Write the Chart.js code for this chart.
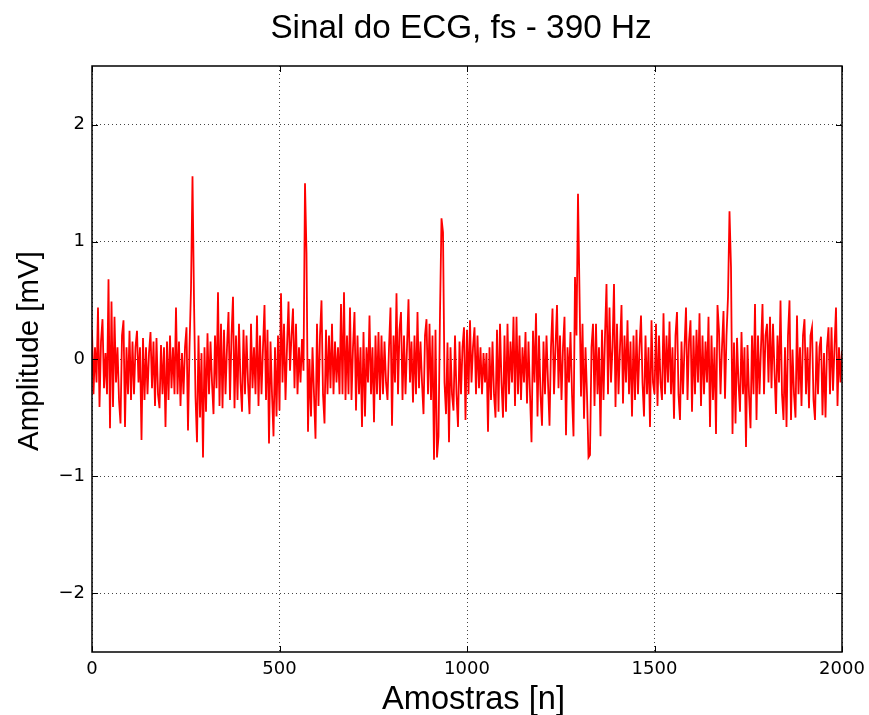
<!DOCTYPE html>
<html>
<head>
<meta charset="utf-8">
<script src="https://cdn.jsdelivr.net/npm/chart.js@4"></script>
<style>
  html, body { margin: 0; padding: 0; background: #fff; }
  canvas { display: block; }
</style>
</head>
<body>
<canvas id="ecg" width="869" height="715"></canvas>
<script>
// uma leitura a cada 4 amostras (0, 4, 8, ... 2000)
const passo = 4;
const amplitude = [
  // 0 - 96
  0.25, -0.3, 0.1, -0.2, 0.44, -0.41, 0.15, 0.34, -0.25, 0.05, -0.3, 0.68, -0.59, 0.49, -0.41, 0.36, -0.2, 0.1, -0.35, -0.55, 0.2, 0.33, -0.58, 0.1, -0.3,
  // 100 - 196
  0.24, -0.35, 0.15, -0.3, 0.1, 0.24, -0.2, 0.1, -0.69, 0.18, -0.35, 0.1, -0.3, 0.05, 0.23, -0.25, 0.15, -0.4, 0.18, -0.3, -0.42, 0.12, -0.3, 0.1, -0.58,
  // 200 - 296
  0.15, -0.35, 0.2, -0.25, 0.1, -0.3, 0.44, -0.3, 0.15, -0.4, 0.05, -0.3, 0.1, 0.27, -0.61, 0.1, 0.6, 1.56, 0.5, -0.32, -0.71, 0.2, -0.5, 0.05, -0.84,
  // 300 - 396
  0.1, -0.45, 0.22, -0.3, 0.15, -0.2, -0.47, 0.2, -0.25, 0.57, -0.4, 0.3, -0.42, 0.25, -0.3, 0.1, 0.4, -0.35, 0.2, 0.53, -0.42, 0.2, -0.35, 0.3, -0.2,
  // 400 - 496
  -0.45, 0.25, -0.3, 0.2, -0.2, -0.47, 0.3, -0.25, 0.1, -0.3, 0.37, -0.4, 0.2, -0.3, 0.1, 0.46, -0.35, 0.25, -0.72, 0.15, -0.3, -0.66, 0.1, -0.49, 0.2,
  // 500 - 596
  -0.44, 0.56, -0.2, 0.3, -0.35, 0.1, 0.49, -0.1, 0.2, 0.43, -0.25, 0.3, -0.3, 0.1, -0.2, 0.17, -0.1, 1.5, 0.9, -0.62, 0.0, -0.49, 0.1, -0.3, -0.68,
  // 600 - 696
  0.3, -0.4, 0.2, 0.5, -0.3, -0.55, 0.25, -0.3, 0.2, -0.25, 0.3, -0.3, 0.15, -0.2, 0.1, -0.3, 0.47, -0.3, 0.57, -0.35, 0.2, -0.3, 0.44, -0.35, 0.1,
  // 700 - 796
  0.4, -0.44, 0.2, -0.3, 0.1, -0.58, 0.23, -0.49, 0.1, -0.2, 0.37, -0.3, 0.1, -0.54, 0.2, -0.3, 0.23, -0.35, 0.2, -0.3, 0.15, -0.2, -0.35, 0.1, 0.44,
  // 800 - 896
  -0.57, 0.2, -0.2, 0.56, -0.3, 0.25, 0.4, -0.35, 0.2, -0.3, 0.1, 0.51, -0.2, 0.15, -0.37, 0.2, -0.3, 0.4, -0.25, 0.15, -0.2, -0.47, 0.2, 0.34, -0.3,
  // 900 - 996
  0.3, -0.35, 0.2, -0.86, 0.25, -0.84, -0.66, 0.39, 1.2, 1.08, -0.2, -0.47, 0.14, -0.71, 0.1, -0.3, -0.44, 0.2, -0.3, -0.58, 0.15, -0.3, 0.1, 0.27, -0.52,
  // 1000 - 1096
  0.25, -0.3, 0.33, -0.2, 0.1, 0.27, -0.3, 0.2, -0.25, 0.1, -0.3, 0.05, -0.2, 0.05, -0.62, 0.1, -0.35, 0.15, -0.3, -0.5, 0.25, -0.45, 0.3, -0.2, -0.5,
  // 1100 - 1196
  0.2, -0.45, 0.3, -0.3, 0.15, -0.2, 0.36, -0.4, 0.36, -0.3, 0.2, -0.35, 0.1, -0.2, 0.23, -0.38, 0.15, -0.3, -0.71, 0.24, -0.2, 0.39, -0.49, 0.2, -0.3,
  // 1200 - 1296
  -0.57, 0.15, -0.3, 0.2, -0.2, -0.57, 0.1, 0.43, -0.3, 0.1, 0.46, -0.25, 0.2, -0.35, 0.1, 0.36, -0.65, 0.1, -0.2, 0.23, -0.3, -0.66, 0.7, 0.2, 1.41,
  // 1300 - 1396
  0.57, -0.32, 0.3, -0.51, 0.1, -0.3, -0.84, -0.82, 0.1, 0.3, -0.4, 0.3, -0.3, 0.1, -0.66, 0.25, -0.35, 0.2, 0.64, -0.3, 0.44, -0.2, 0.1, 0.64, -0.41,
  // 1400 - 1496
  0.3, -0.3, 0.1, 0.46, -0.38, 0.2, -0.2, 0.33, -0.3, 0.15, -0.49, 0.2, -0.35, 0.25, -0.3, 0.1, 0.37, -0.2, -0.49, 0.2, -0.3, 0.1, -0.58, 0.33, -0.2,
  // 1500 - 1596
  -0.3, 0.3, -0.4, 0.2, -0.2, -0.35, 0.39, -0.3, 0.2, -0.2, 0.32, -0.3, 0.1, -0.51, 0.2, 0.4, -0.3, -0.52, 0.15, -0.3, 0.1, 0.44, -0.35, 0.15, 0.33,
  // 1600 - 1696
  -0.45, 0.2, -0.3, 0.25, -0.2, 0.39, -0.4, 0.2, -0.3, 0.15, -0.2, 0.36, -0.58, 0.2, -0.35, 0.1, -0.64, 0.46, 0.24, -0.3, 0.1, 0.41, -0.34, 0.2, 0.53,
  // 1700 - 1796
  1.26, 0.78, -0.64, 0.14, -0.55, 0.18, -0.2, -0.45, 0.23, -0.3, 0.1, -0.75, 0.12, -0.3, -0.59, 0.2, -0.3, 0.47, -0.52, 0.2, -0.3, 0.1, 0.47, -0.3, 0.2,
  // 1800 - 1896
  0.3, -0.2, 0.36, -0.25, 0.3, -0.1, -0.47, 0.2, -0.2, 0.5, -0.3, -0.52, 0.1, -0.58, 0.2, 0.5, -0.52, 0.08, -0.3, -0.5, 0.37, -0.3, 0.1, -0.4, 0.2,
  // 1900 - 1996
  0.34, -0.3, 0.1, -0.42, 0.2, 0.27, -0.35, -0.52, 0.15, -0.3, 0.1, 0.19, -0.48, 0.05, -0.5, 0.1, 0.27, -0.3, 0.27, -0.27, 0.1, 0.44, -0.4, 0.1, -0.2,
  // 2000
  0.07
];
const ticksX = [0, 500, 1000, 1500, 2000];
const ticksY = [-2, -1, 0, 1, 2];

const titulo = 'Sinal do ECG, fs - 390 Hz';
const rotuloX = 'Amostras [n]';
const rotuloY = 'Amplitude [mV]';

const fonteTexto = '"Liberation Sans", Arial, sans-serif';
const fonteTicks = '"DejaVu Sans", sans-serif';

// titulos desenhados a mao para ficarem na mesma posicao que no original
const textos = {
  id: 'textos',
  afterDraw(chart) {
    const ctx = chart.ctx;
    ctx.save();
    ctx.fillStyle = '#000';
    ctx.textAlign = 'center';
    ctx.textBaseline = 'alphabetic';
    ctx.font = '33.3px ' + fonteTexto;
    ctx.fillText(titulo, 461, 37.5);
    ctx.font = '32.6px ' + fonteTexto;
    ctx.fillText(rotuloX, 473.5, 708.5);
    ctx.translate(37.5, 351);
    ctx.rotate(-Math.PI / 2);
    ctx.font = '29.5px ' + fonteTexto;
    ctx.fillText(rotuloY, 0, 0);
    ctx.restore();
  }
};

// moldura preta e marcas de tick para dentro (estilo matplotlib)
const moldura = {
  id: 'moldura',
  afterDraw(chart) {
    const { ctx, chartArea: a, scales } = chart;
    ctx.save();
    ctx.strokeStyle = '#000';
    ctx.lineWidth = 1;
    ticksX.forEach(v => {
      const x = Math.round(scales.x.getPixelForValue(v)) + 0.5;
      ctx.beginPath();
      ctx.moveTo(x, a.bottom); ctx.lineTo(x, a.bottom - 6);
      ctx.moveTo(x, a.top); ctx.lineTo(x, a.top + 6);
      ctx.stroke();
    });
    ticksY.forEach(v => {
      const y = Math.round(scales.y.getPixelForValue(v)) + 0.5;
      ctx.beginPath();
      ctx.moveTo(a.left, y); ctx.lineTo(a.left + 6, y);
      ctx.moveTo(a.right, y); ctx.lineTo(a.right - 6, y);
      ctx.stroke();
    });
    ctx.lineWidth = 1.5;
    ctx.strokeRect(a.left, a.top, a.right - a.left, a.bottom - a.top);
    ctx.restore();
  }
};

const fundo = {
  id: 'fundo',
  beforeDraw(chart) {
    const ctx = chart.ctx;
    ctx.save();
    ctx.fillStyle = '#fff';
    ctx.fillRect(0, 0, chart.width, chart.height);
    ctx.restore();
  }
};

new Chart(document.getElementById('ecg'), {
  type: 'line',
  data: {
    datasets: [{
      data: amplitude.map((v, i) => ({ x: i * passo, y: v })),
      borderColor: '#ff0000',
      borderWidth: 1.8,
      pointRadius: 0,
      tension: 0,
      fill: false
    }]
  },
  options: {
    responsive: false,
    animation: false,
    layout: { padding: { left: 0, right: 27, top: 66, bottom: 0 } },
    plugins: {
      legend: { display: false },
      tooltip: { enabled: false },
      title: { display: false }
    },
    scales: {
      x: {
        type: 'linear',
        min: 0,
        max: 2000,
        afterBuildTicks: s => { s.ticks = ticksX.map(v => ({ value: v })); },
        afterFit: s => { s.height = 63; s.paddingLeft = 0; s.paddingRight = 0; },
        ticks: {
          color: '#000',
          padding: 7,
          maxRotation: 0,
          font: { family: fonteTicks, size: 18 },
          callback: v => String(v)
        },
        grid: {
          color: '#444',
          drawTicks: false
        },
        border: { display: false, dash: [1, 3] }
      },
      y: {
        type: 'linear',
        min: -2.5,
        max: 2.5,
        afterBuildTicks: s => { s.ticks = ticksY.map(v => ({ value: v })); },
        afterFit: s => { s.width = 92; s.paddingTop = 0; s.paddingBottom = 0; },
        ticks: {
          color: '#000',
          padding: 7,
          font: { family: fonteTicks, size: 18 },
          callback: v => v < 0 ? '\u2212' + Math.abs(v) : String(v)
        },
        grid: {
          color: '#444',
          drawTicks: false
        },
        border: { display: false, dash: [1, 3] }
      }
    }
  },
  plugins: [fundo, moldura, textos]
});
</script>
</body>
</html>
